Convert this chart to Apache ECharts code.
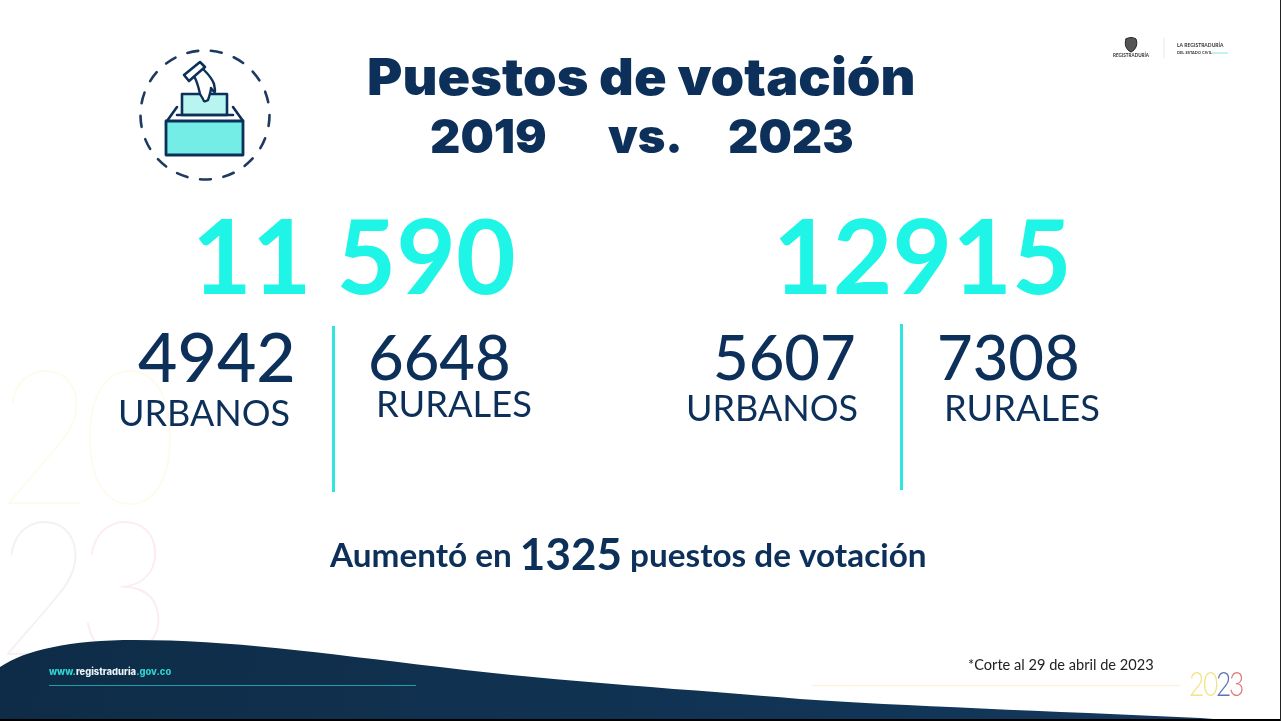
<!DOCTYPE html>
<html lang="es">
<head>
    <meta charset="UTF-8">
    <script src="https://cdn.jsdelivr.net/npm/echarts@6/dist/echarts.min.js"></script>
    <title>Puestos de votación</title>
</head>
<body>
    <style>
        html, body, #main {
            margin: 0;
            height: 100%;
            background: #fff;
        }
    </style>
    <div id="main"></div>
    <script>
        var titleLine = 'Puestos de votación';
        var years = ['2019', 'vs.', '2023'];
        var totals = ['11 590', '12915'];
        var urbanos = ['4942', '5607'];
        var rurales = ['6648', '7308'];
        var labels = ['URBANOS', 'RURALES'];
        var increase = ['Aumentó en ', '1325', ' puestos de votación'];
        var cutoff = '*Corte al 29 de abril de 2023';
        var site = ['www.', 'registraduria', '.gov.co'];
        var watermark = ['2', '0', '2', '3'];

        var NAVY = '#0c3059';
        var CYAN = '#1ff5e6';
        var numFont = 'Lato, sans-serif';
        var headFont = 'Inter, sans-serif';

        function txt(x, y, text, size, color, weight, font, opts) {
            return {
                type: 'text',
                x: x,
                y: y,
                z: (opts && opts.z) || 10,
                scaleX: (opts && opts.scaleX) || 1,
                style: {
                    text: text,
                    fill: color,
                    font: (weight || 400) + ' ' + size + 'px ' + (font || numFont),
                    textAlign: 'left',
                    textVerticalAlign: 'middle'
                }
            };
        }
        function line(x1, y1, x2, y2, color, w) {
            return {
                type: 'line',
                z: 5,
                shape: { x1: x1, y1: y1, x2: x2, y2: y2 },
                style: { stroke: color, lineWidth: w, fill: null }
            };
        }
        // the graphic component has no 'path' type, so each svg path gets registered as a shape
        var pathCount = 0;
        function path(d, fill, stroke, w, z) {
            var name = 'svgPath' + (pathCount++);
            echarts.graphic.registerShape(name, echarts.graphic.extendPath(d));
            return {
                type: name,
                z: z || 6,
                style: { fill: fill, stroke: stroke, lineWidth: w, lineJoin: 'round', lineCap: 'round' }
            };
        }

        var els = [];

        // wave at the bottom
        els.push(path('M0 667 C25 650 70 640 135 640 C230 640 320 653 440 667 C560 682 700 690 800 699 C900 706 1050 711 1200 718 L1240 721 L0 721 Z',
            new echarts.graphic.LinearGradient(0, 0, 1, 1, [
                { offset: 0, color: '#0e2c47' },
                { offset: 1, color: '#13395d' }
            ]), null, 0, 2));
        els.push({ type: 'rect', z: 3, shape: { x: 0, y: 719, width: 1281, height: 2 }, style: { fill: '#000' } });
        els.push({ type: 'rect', z: 3, shape: { x: 1280, y: 0, width: 1, height: 721 }, style: { fill: '#222' } });

        // icon
        els.push({
            type: 'circle', z: 6,
            shape: { cx: 205, cy: 115, r: 64.5 },
            style: { fill: null, stroke: '#1e3a5f', lineWidth: 2.6, lineDash: [11, 12.8], lineCap: 'round' }
        });
        els.push(path('M167 121 L177 107 M243 121 L233 107', null, NAVY, 2.6));
        els.push(path('M182 115 L182 94 L227 94 L227 115 Z', '#b8f5f0', NAVY, 2.6));
        els.push(path('M177 115 L233 115', null, NAVY, 2.6));
        els.push(path('M166 121 L243 121 L243 155 L166 155 Z', '#74ede6', NAVY, 2.8));
        els.push(path('M184 75 L200 62 L205 67 L189 81 Z', '#fff', NAVY, 2.6, 7));
        els.push(path('M195 78 C198 84 199 90 200 94 L203 99 C204 103 206 101 208 100 C210 94 211 90 211 88 C214 92 215 94 215 90 L214 84 C212 78 208 74 204 70', '#fff', NAVY, 2.4, 7));

        // logo top right
        els.push(path('M1126 39 C1129 37 1133 37 1136 39 C1138 44 1136 50 1131 52 C1126 50 1124 44 1126 39 Z', '#555', '#222', 1));
        els.push(txt(1113, 56, 'REGISTRADURÍA', 4.6, '#333', 700, numFont));
        els.push(line(1164, 38, 1164, 58, '#e8e8e8', 1));
        els.push(txt(1177, 45, 'LA REGISTRADURÍA', 5, '#333', 700, numFont));
        els.push(txt(1177, 53, 'DEL ESTADO CIVIL', 4, '#333', 700, numFont));
        els.push(line(1212, 53, 1228, 53, '#7fe8df', 1));

        // title
        els.push(txt(367, 80, titleLine, 51, NAVY, 900, headFont, { scaleX: 1.058 }));
        els.push(txt(430, 139, years[0], 47, NAVY, 900, headFont));
        els.push(txt(608, 139, years[1], 47, NAVY, 900, headFont));
        els.push(txt(728, 139, years[2], 47, NAVY, 900, headFont));

        // totals
        els.push(txt(192, 261, totals[0], 103, CYAN, 700));
        els.push(txt(773, 261, totals[1], 103, CYAN, 700));

        // breakdown
        els.push(txt(138, 360, urbanos[0], 68, NAVY, 500));
        els.push(txt(368, 360, rurales[0], 61.5, NAVY, 500));
        els.push(txt(713, 360, urbanos[1], 61.5, NAVY, 500));
        els.push(txt(937, 360, rurales[1], 61.5, NAVY, 500));
        els.push(txt(118, 414, labels[0], 36, NAVY, 400));
        els.push(txt(376, 405, labels[1], 36.3, NAVY, 400));
        els.push(txt(686, 409, labels[0], 36, NAVY, 400));
        els.push(txt(944, 409, labels[1], 36.3, NAVY, 400));
        els.push(line(333.5, 326, 333.5, 492, '#2ee6de', 3));
        els.push(line(901.5, 324, 901.5, 490, '#2ee6de', 3));

        // increase sentence
        els.push({
            type: 'text', z: 10, x: 330, y: 556,
            style: {
                text: '{a|' + increase[0] + '}{b|' + increase[1] + '}{a|' + increase[2] + '}',
                textVerticalAlign: 'middle',
                rich: {
                    a: { font: '700 33.3px ' + numFont, fill: NAVY },
                    b: { font: '700 44px ' + numFont, fill: NAVY }
                }
            }
        });

        // footer
        els.push({
            type: 'text', z: 10, x: 49, y: 672,
            style: {
                text: '{a|' + site[0] + '}{b|' + site[1] + '}{a|' + site[2] + '}',
                textVerticalAlign: 'middle',
                rich: {
                    a: { font: '800 9.4px ' + headFont, fill: '#2fd3cf' },
                    b: { font: '800 9.4px ' + headFont, fill: '#e8f4f6' }
                }
            }
        });
        els.push(line(49, 685.5, 416, 685.5, '#1f9fa8', 1));
        els.push(txt(968, 665, cutoff, 14.6, '#222', 400));
        els.push(line(812, 685.5, 1180, 685.5, '#fbf3dc', 1.5));

        // small 2023
        var smallColors = ['#f2e488', '#f2e488', '#5a74b4', '#e07a7a'];
        var smallX = [1189, 1203, 1216, 1229];
        watermark.forEach(function (d, i) {
            els.push(txt(smallX[i], 685, d, 33, smallColors[i], 300, numFont, { scaleX: 0.8 }));
        });

        // big pale 2023 behind everything
        var bigColors = ['#fefbee', '#fefbee', '#f6f0f4', '#fcedef'];
        var bigX = [-3, 82, -4, 76];
        var bigY = [443, 443, 594, 594];
        watermark.forEach(function (d, i) {
            els.push(txt(bigX[i], bigY[i], d, 188, bigColors[i], 100, numFont, { z: 1, scaleX: 0.88 }));
        });

        var chart = echarts.init(document.getElementById('main'));
        chart.setOption({
            animation: false,
            backgroundColor: '#fff',
            graphic: { elements: els }
        });
    </script>
</body>
</html>
